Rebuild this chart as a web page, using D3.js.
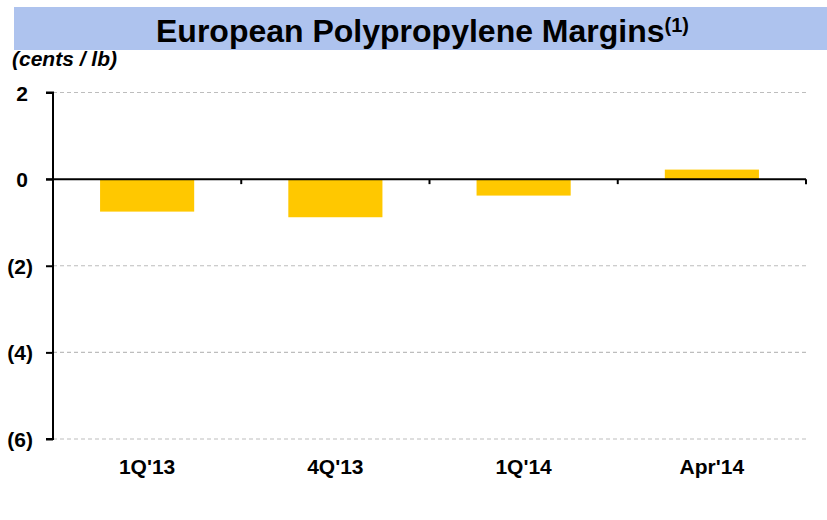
<!DOCTYPE html>
<html><head><meta charset="utf-8">
<script src="https://cdn.jsdelivr.net/npm/d3@7/dist/d3.min.js"></script>
<style>body{margin:0;background:#fff}svg{display:block}text{font-family:"Liberation Sans",Arial,sans-serif}</style>
</head><body><svg id="c" width="827" height="520"></svg>
<script>
const categories = ["1Q'13", "4Q'13", "1Q'14", "Apr'14"];
const margins = [-0.75, -0.88, -0.38, 0.22];
const yTicks = [2, 0, -2, -4, -6];
const titleText = "European Polypropylene Margins";
const titleNote = "(1)";
const unitLabel = "(cents / lb)";

const svg = d3.select("#c");
const plotLeft = 53, plotRight = 806, plotTop = 92.5, plotBottom = 439;

svg.append("rect").attr("x", 14).attr("y", 7).attr("width", 813).attr("height", 43).attr("fill", "#aec3ee");
const t = svg.append("text").attr("x", 156).attr("y", 42).attr("text-anchor", "start")
  .attr("font-weight", "bold").attr("font-size", 32).attr("fill", "#000");
t.append("tspan").text(titleText);
t.append("tspan").attr("font-size", 20).attr("dy", -10).text(titleNote);

svg.append("text").attr("x", 12).attr("y", 66).attr("font-weight", "bold").attr("font-style", "italic")
  .attr("font-size", 21).text(unitLabel);

const x = d3.scaleBand().domain(categories).range([plotLeft, plotRight]).paddingInner(0.5).paddingOuter(0.25);
const y = d3.scaleLinear().domain([-6, 2]).range([plotBottom, plotTop]);

// grid
svg.append("g").selectAll("line").data(yTicks.filter(d => d !== 0)).join("line")
  .attr("x1", plotLeft).attr("x2", plotRight).attr("y1", d => y(d)).attr("y2", d => y(d))
  .attr("stroke", "#bdbdbd").attr("stroke-width", 1.2).attr("stroke-dasharray", "4,3");

// bars
svg.append("g").selectAll("rect").data(margins).join("rect")
  .attr("x", (d, i) => x(categories[i])).attr("width", x.bandwidth())
  .attr("y", d => y(Math.max(0, d))).attr("height", d => Math.abs(y(d) - y(0)))
  .attr("fill", "#ffc800");

// y axis
const yAxis = d3.axisLeft(y).tickValues(yTicks).tickSize(7).tickFormat(d => d < 0 ? `(${-d})` : `${d}`);
const gy = svg.append("g").attr("transform", `translate(${plotLeft},0)`).call(yAxis);
gy.attr("font-family", null).attr("font-size", null);
gy.select(".domain").attr("stroke", "#000").attr("stroke-width", 2).attr("d", `M-7,${plotTop}H0V${plotBottom}H-7`);
gy.selectAll(".tick line").attr("stroke", "#000").attr("stroke-width", 2);
gy.selectAll(".tick text").attr("font-size", 21).attr("font-weight", "bold").attr("fill", "#000")
  .attr("x", d => d < 0 ? -20 : -25).attr("dy", "0.36em");

// x axis at zero
const xBounds = d3.scaleLinear().domain([0, categories.length]).range([plotLeft, plotRight]);
const gx = svg.append("g").attr("transform", `translate(0,${y(0)})`);
gx.append("line").attr("x1", plotLeft - 7).attr("x2", plotRight).attr("stroke", "#000").attr("stroke-width", 2);
gx.selectAll(".xt").data(d3.range(1, categories.length + 1)).join("line").attr("class", "xt")
  .attr("x1", d => xBounds(d)).attr("x2", d => xBounds(d)).attr("y1", 0).attr("y2", 5)
  .attr("stroke", "#000").attr("stroke-width", 2);

svg.append("g").selectAll("text").data(categories).join("text")
  .attr("x", d => x(d) + x.bandwidth() / 2).attr("y", 474).attr("text-anchor", "middle")
  .attr("font-size", 21).attr("font-weight", "bold").text(d => d);
</script></body></html>
